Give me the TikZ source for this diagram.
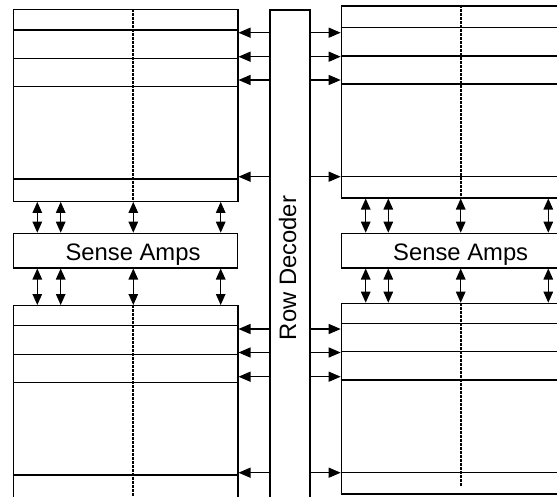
\documentclass[tikz,border=0pt]{standalone}
\usepackage{fontspec}
\setmainfont{Liberation Sans}
\usetikzlibrary{arrows.meta}
\begin{document}
\begin{tikzpicture}[x=1pt, y=-1pt,
  block/.style={draw, rectangle, inner sep=0pt, anchor=north west, line width=1.2pt},
  arraybox/.style={block, minimum width=224.3pt, minimum height=192pt},
  ampbox/.style={block, minimum width=224.3pt, minimum height=34.6pt},
  decbox/.style={block, minimum width=40pt, minimum height=500pt},
  label/.style={font=\fontsize{23.8}{26}\selectfont, inner sep=0pt, anchor=base},
  rowline/.style={draw, line width=1.2pt},
  colline/.style={draw, line width=1.5pt, dash pattern=on 3pt off 1pt},
  wordline/.style={line width=1.2pt, -{Triangle[length=12pt,width=10pt]}},
  bitline/.style={line width=1.2pt, {Triangle[length=11pt,width=9.5pt]}-{Triangle[length=11pt,width=9.5pt]}}
]
\useasboundingbox (0,0) rectangle (557,496);
\clip (0,0) rectangle (557,496);

% row decoder in the middle
\node[decbox] (dec) at (269.3,9.3) {};
\node[label, rotate=90] (dectext) at (296,268) {Row Decoder};

% memory arrays
\node[arraybox] (ltA) at (13,8.7) {};
\node[arraybox] (rtA) at (340.7,5.3) {};
\node[arraybox] (lbA) at (13,305) {};
\node[arraybox, minimum height=190.6pt] (rbA) at (340.7,302.7) {};

% sense amplifiers
\node[ampbox] (lsa) at (12.7,232.7) {};
\node[ampbox] (rsa) at (340.7,232.7) {};
\node[label] (lsatext) at (133,260.7) {Sense Amps};
\node[label] (rsatext) at (460.7,260.7) {Sense Amps};

% rows inside the arrays
\foreach \y in {30,58.3,86.7,179}
  \draw[rowline] (ltA.west |- 0,\y) -- (ltA.east |- 0,\y);
\foreach \y in {27.3,56,84,176.7}
  \draw[rowline] (rtA.west |- 0,\y) -- (rtA.east |- 0,\y);
\foreach \y in {325.7,354.3,382.3,475}
  \draw[rowline] (lbA.west |- 0,\y) -- (lbA.east |- 0,\y);
\foreach \y in {323.3,351.7,380,472.3}
  \draw[rowline] (rbA.west |- 0,\y) -- (rbA.east |- 0,\y);

% column split inside the arrays
\draw[colline] (ltA.north -| 133,0) -- (ltA.south -| 133,0);
\draw[colline] (rtA.north -| 461,0) -- (rtA.south -| 461,0);
\draw[colline] (lbA.north -| 133,0) -- (lbA.south -| 133,0);
\draw[colline] (rbA.north -| 461,0) -- (0,486.7 -| 461,0);

% word lines driven by the decoder
\foreach \y in {32.7,56.7,80,176.7,329,352.5,376.7,472.7} {
  \draw[wordline] (dec.west |- 0,\y) -- (ltA.east |- 0,\y);
  \draw[wordline] (dec.east |- 0,\y) -- (rtA.west |- 0,\y);
}

% bit lines between arrays and sense amps
\foreach \x in {37.3,60.7,133.3,220.7} {
  \draw[bitline] (ltA.south -| \x,0) -- (lsa.north -| \x,0);
  \draw[bitline] (lsa.south -| \x,0) -- (lbA.north -| \x,0);
}
\foreach \x in {365.7,388.3,460.7,548.3} {
  \draw[bitline] (rtA.south -| \x,0) -- (rsa.north -| \x,0);
  \draw[bitline] (rsa.south -| \x,0) -- (rbA.north -| \x,0);
}
\end{tikzpicture}
\end{document}
